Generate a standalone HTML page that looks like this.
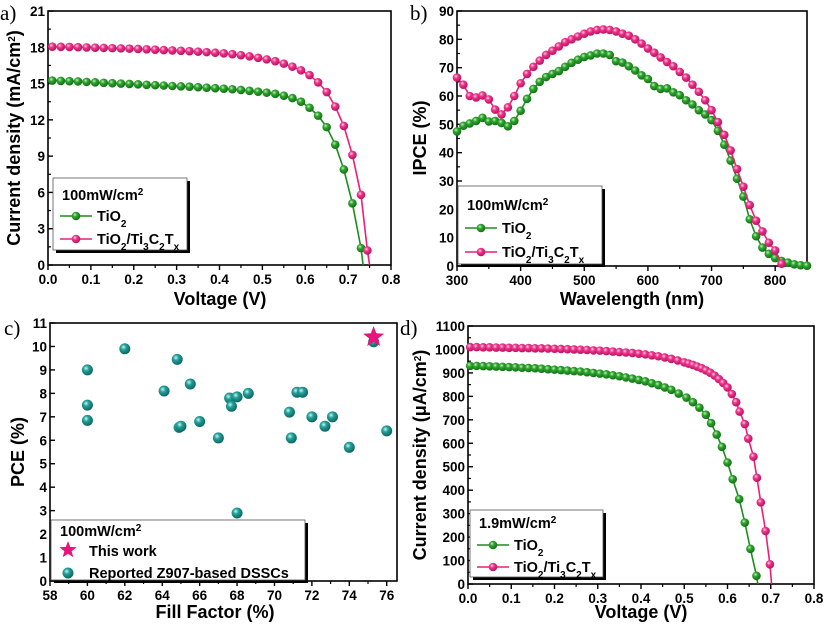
<!DOCTYPE html>
<html><head><meta charset="utf-8">
<style>
html,body{margin:0;padding:0;background:#fff;}
svg{display:block;font-family:"Liberation Sans",Arial,sans-serif;}
.tk{font-size:13.5px;font-weight:bold;fill:#000;}
.ttl{font-size:18px;font-weight:bold;fill:#000;}
.lg{font-size:14.5px;font-weight:bold;fill:#000;}
.pl{font-family:"Liberation Serif",serif;font-size:21px;fill:#000;}
</style></head>
<body>
<svg id="root" width="827" height="627" viewBox="0 0 827 627" xmlns="http://www.w3.org/2000/svg">
<defs>
<radialGradient id="gG" cx="0.38" cy="0.35" r="0.7"><stop offset="0" stop-color="#c8f0c0"/><stop offset="0.35" stop-color="#2fa52f"/><stop offset="1" stop-color="#0e6a10"/></radialGradient>
<radialGradient id="gP" cx="0.38" cy="0.35" r="0.7"><stop offset="0" stop-color="#ffd8ea"/><stop offset="0.35" stop-color="#f0348c"/><stop offset="1" stop-color="#b0105a"/></radialGradient>
<radialGradient id="gT" cx="0.38" cy="0.35" r="0.7"><stop offset="0" stop-color="#d0f4f0"/><stop offset="0.35" stop-color="#23a29a"/><stop offset="1" stop-color="#0b5e5a"/></radialGradient>
</defs>
</svg>
<script>
// Panel a data
const aGreenX=[0.01,0.03,0.05,0.07,0.09,0.11,0.13,0.15,0.17,0.19,0.21,0.23,0.25,0.27,0.29,0.31,0.33,0.35,0.37,0.39,0.41,0.43,0.45,0.47,0.49,0.51,0.53,0.55,0.57,0.59,0.61,0.63,0.65,0.67,0.69,0.71,0.73];
const aGreenY=[15.25,15.22,15.2,15.18,15.14,15.1,15.06,15.03,15.0,14.97,14.94,14.9,14.87,14.84,14.8,14.77,14.74,14.7,14.66,14.62,14.58,14.53,14.47,14.4,14.33,14.25,14.15,14.0,13.8,13.5,13.0,12.35,11.4,9.95,7.9,5.1,1.4];
const aGreenVoc=0.735;
const aPinkX=[0.01,0.03,0.05,0.07,0.09,0.11,0.13,0.15,0.17,0.19,0.21,0.23,0.25,0.27,0.29,0.31,0.33,0.35,0.37,0.39,0.41,0.43,0.45,0.47,0.49,0.51,0.53,0.55,0.57,0.59,0.61,0.63,0.65,0.67,0.69,0.71,0.73,0.745];
const aPinkY=[18.05,18.04,18.03,18.01,17.99,17.97,17.95,17.93,17.91,17.89,17.86,17.83,17.8,17.77,17.74,17.71,17.68,17.64,17.6,17.55,17.5,17.43,17.35,17.25,17.13,17.0,16.85,16.65,16.4,16.1,15.7,15.1,14.3,13.1,11.5,9.1,5.8,1.2];
const aPinkVoc=0.75;
const aXTicks=["0.0","0.1","0.2","0.3","0.4","0.5","0.6","0.7","0.8"];
const aYTicks=["0","3","6","9","12","15","18","21"];
// Panel b data
const bX=[300,310,320,330,340,350,360,370,380,390,400,410,420,430,440,450,460,470,480,490,500,510,520,530,540,550,560,570,580,590,600,610,620,630,640,650,660,670,680,690,700,710,720,730,740,750,760,770,780,790,800,810,820,830,840,850];
const bGreen=[47.5,49.5,50.3,51.2,52.3,51,51.2,50.5,49.3,51.2,54.8,59,62.5,65,66.7,67.8,68.8,70.3,71.7,72.8,73.8,74.3,75,75,74.5,72.3,71.8,70.5,69,67.3,66,63.5,62.5,62.7,61.3,60.3,58.5,57,55,53.5,51.5,47.7,42.8,37.2,30.8,24.5,16.5,10.5,6.5,4.3,2.8,1.8,1.2,0.6,0.3,0.1];
const bPinkX=[300,310,320,330,340,350,360,370,380,390,400,410,420,430,440,450,460,470,480,490,500,510,520,530,540,550,560,570,580,590,600,610,620,630,640,650,660,670,680,690,700,710,720,730,740,750,760,770,780,790,800,810];
const bPink=[66.5,64,60,59.5,60.2,58.8,55.2,53.5,56,60,64.5,67.8,70.3,72.5,74.5,76,77.5,79,80,81,82,82.8,83.3,83.5,83.3,82.8,82,81.3,80,78.5,76.8,75.3,73.6,72,70.5,68.5,66.5,64,61.5,58.5,55,50.8,46.3,40.8,34.2,28,21.5,16,12.2,8.2,5.5,0.8];
const bXTicks=["300","400","500","600","700","800"];
const bYTicks=["0","10","20","30","40","50","60","70","80","90"];
// Panel c data
const cFF=[60,60,60,62,64.1,64.8,64.9,65,65.5,66,67,67.6,67.7,68,68,68.6,70.8,70.9,71.2,71.5,72,72.7,73.1,74,75.3,76];
const cPCE=[9.0,7.5,6.85,9.9,8.1,9.45,6.55,6.6,8.4,6.8,6.1,7.8,7.45,7.85,2.9,8.0,7.2,6.1,8.05,8.05,7.0,6.6,7.0,5.7,10.2,6.4];
const cStarFF=[75.3];
const cStarPCE=[10.4];
const cXTicks=["58","60","62","64","66","68","70","72","74","76"];
const cYTicks=["0","1","2","3","4","5","6","7","8","9","10","11"];
// Panel d data
const dGreenX=[0.005,0.02,0.035,0.05,0.065,0.08,0.095,0.11,0.125,0.14,0.155,0.17,0.185,0.2,0.215,0.23,0.245,0.26,0.275,0.29,0.305,0.32,0.335,0.35,0.365,0.38,0.395,0.41,0.425,0.44,0.455,0.47,0.487,0.505,0.52,0.535,0.55,0.562,0.575,0.587,0.6,0.612,0.627,0.64,0.653,0.667];
const dGreenY=[930,930,929,928,927,926,925,924,922,921,920,918,916,914,912,910,908,906,903,900,897,894,890,886,881,876,870,864,856,848,838,828,812,795,775,752,722,686,637,585,518,447,362,262,150,35];
const dGreenVoc=0.67;
const dPinkX=[0.005,0.02,0.035,0.05,0.065,0.08,0.095,0.11,0.125,0.14,0.155,0.17,0.185,0.2,0.215,0.23,0.245,0.26,0.275,0.29,0.305,0.32,0.335,0.35,0.365,0.38,0.395,0.41,0.425,0.44,0.455,0.47,0.485,0.5,0.51,0.52,0.53,0.54,0.55,0.56,0.57,0.58,0.59,0.6,0.61,0.62,0.628,0.64,0.648,0.66,0.668,0.677,0.688,0.698];
const dPinkY=[1010,1010,1009,1009,1008,1008,1007,1007,1006,1006,1005,1005,1004,1003,1002,1001,1000,999,998,996,995,993,991,989,987,985,982,979,975,971,966,960,953,945,940,934,927,920,911,901,889,874,857,838,810,775,735,682,620,543,453,348,226,84];
const dPinkVoc=0.702;
const dXTicks=["0.0","0.1","0.2","0.3","0.4","0.5","0.6","0.7","0.8"];
const dYTicks=["0","100","200","300","400","500","600","700","800","900","1000","1100"];

const NS="http://www.w3.org/2000/svg";
const root=document.getElementById('root');
function mk(tag,attrs,parent){const e=document.createElementNS(NS,tag);for(const k in attrs)e.setAttribute(k,attrs[k]);(parent||root).appendChild(e);return e;}
function scale(d0,d1,p0,p1){return v=>p0+(v-d0)/(d1-d0)*(p1-p0);}

function axes(g,L,T,R,B,xs,ys,xTicks,yTicks,xMinorN,yMinorN){
  mk('rect',{x:L,y:T,width:R-L,height:B-T,fill:'none',stroke:'#000','stroke-width':1.6},g);
  xTicks.forEach((t,i)=>{const v=parseFloat(t);const x=xs(v);
    mk('line',{x1:x,y1:B,x2:x,y2:B+5,stroke:'#000','stroke-width':1.4},g);
    if(i<xTicks.length-1&&xMinorN){const v2=parseFloat(xTicks[i+1]);const xm=xs((v+v2)/2);mk('line',{x1:xm,y1:B,x2:xm,y2:B+3,stroke:'#000','stroke-width':1.2},g);}
    const tx=mk('text',{x:x,y:B+19,'text-anchor':'middle',class:'tk'},g);tx.textContent=t;
    
    
  });
  yTicks.forEach((t,i)=>{const v=parseFloat(t);const y=ys(v);
    mk('line',{x1:L,y1:y,x2:L+5,y2:y,stroke:'#000','stroke-width':1.4},g);
    if(i<yTicks.length-1&&yMinorN){const v2=parseFloat(yTicks[i+1]);const ym=ys((v+v2)/2);mk('line',{x1:L,y1:ym,x2:L+3,y2:ym,stroke:'#000','stroke-width':1.2},g);}
    const tx=mk('text',{x:L-3,y:y+5,'text-anchor':'end',class:'tk'},g);tx.textContent=t;
    
    
  });
}
function series(g,xs,ys,X,Y,color,grad,extraX,name){
  let d='';X.forEach((v,i)=>{d+=(i?'L':'M')+xs(v).toFixed(1)+','+ys(Y[i]).toFixed(1);});
  if(extraX!==null)d+='L'+xs(extraX).toFixed(1)+','+ys(0).toFixed(1);
  const p=mk('path',{d:d,fill:'none',stroke:color,'stroke-width':1.6},g);
  
  
  X.forEach((v,i)=>{const c=mk('circle',{cx:xs(v),cy:ys(Y[i]),r:4.3,fill:'url(#'+grad+')'},g);
    
    
  });
}
function legend(g,x,y,w,h,title,items,tY,i0,dy){
  mk('rect',{x:x+3,y:y+3,width:w,height:h,fill:'#000'},g);
  mk('rect',{x:x,y:y,width:w,height:h,fill:'#fff',stroke:'#555','stroke-width':0.8},g);
  const t=mk('text',{x:x+9,y:y+tY,class:'lg'},g);t.innerHTML=title;
  items.forEach((it,i)=>{const yy=y+i0+i*dy;
    if(it.kind==='line'){mk('line',{x1:x+7,y1:yy-5,x2:x+39,y2:yy-5,stroke:it.color,'stroke-width':1.6},g);mk('circle',{cx:x+23,cy:yy-5,r:4.3,fill:'url(#'+it.grad+')'},g);}
    else if(it.kind==='star'){star(g,x+17,yy-6,9);}
    else{mk('circle',{cx:x+17,cy:yy-5,r:5.5,fill:'url(#gT)'},g);}
    const tt=mk('text',{x:x+(it.kind==='line'?44:38),y:yy,class:'lg'},g);tt.innerHTML=it.label;
    
    
  });
}
function star(g,cx,cy,r){let pts=[];for(let i=0;i<10;i++){const a=-Math.PI/2+i*Math.PI/5;const rr=i%2?r*0.42:r;pts.push((cx+rr*Math.cos(a)).toFixed(1)+','+(cy+rr*Math.sin(a)).toFixed(1));}
  const s=mk('polygon',{points:pts.join(' '),fill:'#e8147c'},g);
  
  
  return s;}
function title(g,x,y,txt,rot,name){const t=mk('text',{x:x,y:y,'text-anchor':'middle',class:'ttl',transform:rot?'rotate(-90 '+x+' '+y+')':''},g);t.innerHTML=txt;
  
  }
function plabel(g,x,y,t){const e=mk('text',{x:x,y:y,class:'pl'},g);e.textContent=t;
  
  }
const sub=s=>'<tspan baseline-shift="sub" font-size="10">'+s+'</tspan>';
const sup=s=>'<tspan baseline-shift="super" font-size="10">'+s+'</tspan>';
const TiTx='TiO'+sub('2')+'/Ti'+sub('3')+'C'+sub('2')+'T'+sub('x');

// Panel a
{const g=mk('g',{});
 const L=48,T=11,R=391,B=265;const xs=scale(0,0.8,L,R),ys=scale(0,21,B,T);
 axes(g,L,T,R,B,xs,ys,aXTicks,aYTicks,true,true);
 series(g,xs,ys,aGreenX,aGreenY,'#1e8c1e','gG',aGreenVoc,'tio2');
 series(g,xs,ys,aPinkX,aPinkY,'#e8207a','gP',aPinkVoc,'tio2-ti3c2tx');
 legend(g,53,178,134,72,'100mW/cm'+sup('2'),[{kind:'line',color:'#1e8c1e',grad:'gG',label:'TiO'+sub('2')},{kind:'line',color:'#e8207a',grad:'gP',label:TiTx}],22,43,23);
 title(g,220,305,'Voltage (V)',false,'x-axis-title');
 title(g,20,138,'Current density (mA/cm'+sup('2')+')',true,'y-axis-title');
 plabel(g,0,20,'a)');}
// Panel b
{const g=mk('g',{});
 const L=457,T=11,R=807,B=266;const xs=scale(300,850,L,R),ys=scale(0,90,B,T);
 axes(g,L,T,R,B,xs,ys,bXTicks,bYTicks,true,true);
 series(g,xs,ys,bX,bGreen,'#1e8c1e','gG',null,'tio2');
 series(g,xs,ys,bPinkX,bPink,'#e8207a','gP',null,'tio2-ti3c2tx');
 legend(g,458,186,144,78,'100mW/cm'+sup('2'),[{kind:'line',color:'#1e8c1e',grad:'gG',label:'TiO'+sub('2')},{kind:'line',color:'#e8207a',grad:'gP',label:TiTx}],24,47,24);
 title(g,632,305,'Wavelength (nm)',false,'x-axis-title');
 title(g,426,138,'IPCE (%)',true,'y-axis-title');
 plabel(g,410,20,'b)');}
// Panel c
{const g=mk('g',{});
 const L=50,T=323,R=397,B=581;const xs=scale(58,76.55,L,R),ys=scale(0,11,B,T);
 axes(g,L,T,R,B,xs,ys,cXTicks,cYTicks,true,false);
 cFF.forEach((v,i)=>{const c=mk('circle',{cx:xs(v),cy:ys(cPCE[i]),r:5.5,fill:'url(#gT)'},g);
   
   });
 cStarFF.forEach((v,i)=>star(g,xs(v),ys(cStarPCE[i]),11));
 legend(g,51,520,254,60,'100mW/cm'+sup('2'),[{kind:'star',label:'This work'},{kind:'dot',label:'Reported Z907-based DSSCs'}],16,36,22);
 title(g,215,618,'Fill Factor (%)',false,'x-axis-title');
 title(g,24,452,'PCE (%)',true,'y-axis-title');
 plabel(g,4,335,'c)');}
// Panel d
{const g=mk('g',{});
 const L=468,T=326,R=814,B=584;const xs=scale(0,0.8,L,R),ys=scale(0,1100,B,T);
 axes(g,L,T,R,B,xs,ys,dXTicks,dYTicks,true,true);
 series(g,xs,ys,dGreenX,dGreenY,'#1e8c1e','gG',dGreenVoc,'tio2');
 series(g,xs,ys,dPinkX,dPinkY,'#e8207a','gP',dPinkVoc,'tio2-ti3c2tx');
 legend(g,470,510,133,67,'1.9mW/cm'+sup('2'),[{kind:'line',color:'#1e8c1e',grad:'gG',label:'TiO'+sub('2')},{kind:'line',color:'#e8207a',grad:'gP',label:TiTx}],18,40,22);
 title(g,641,618,'Voltage (V)',false,'x-axis-title');
 title(g,426,455,'Current density (&#956;A/cm'+sup('2')+')',true,'y-axis-title');
 plabel(g,400,335,'d)');}
</script>
</body></html>
